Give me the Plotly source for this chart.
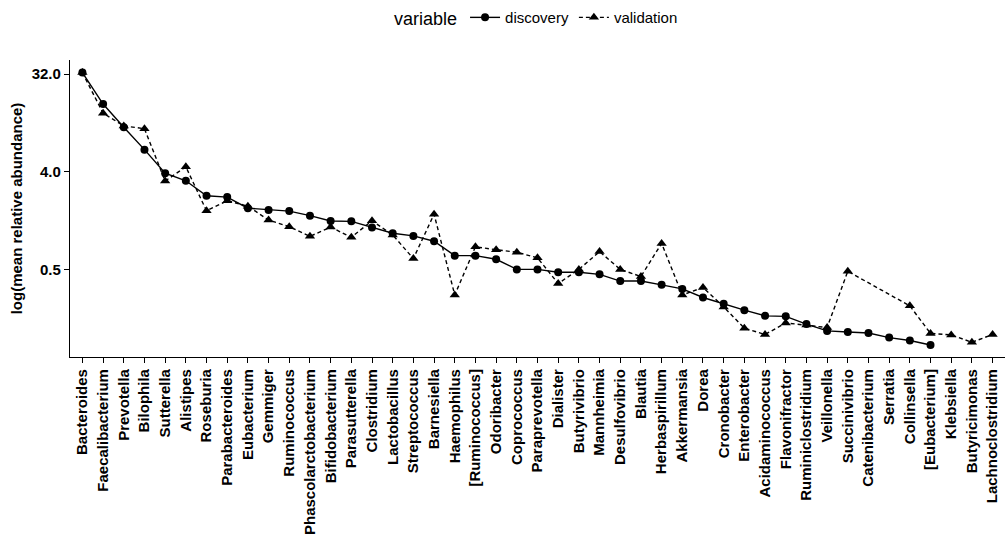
import plotly.graph_objects as go

genera = ["Bacteroides", "Faecalibacterium", "Prevotella", "Bilophila", "Sutterella", "Alistipes",
          "Roseburia", "Parabacteroides", "Eubacterium", "Gemmiger", "Ruminococcus",
          "Phascolarctobacterium", "Bifidobacterium", "Parasutterella", "Clostridium", "Lactobacillus",
          "Streptococcus", "Barnesiella", "Haemophilus", "[Ruminococcus]", "Odoribacter", "Coprococcus",
          "Paraprevotella", "Dialister", "Butyrivibrio", "Mannheimia", "Desulfovibrio", "Blautia",
          "Herbaspirillum", "Akkermansia", "Dorea", "Cronobacter", "Enterobacter", "Acidaminococcus",
          "Flavonifractor", "Ruminiclostridium", "Veillonella", "Succinivibrio", "Catenibacterium",
          "Serratia", "Collinsella", "[Eubacterium]", "Klebsiella", "Butyricimonas", "Lachnoclostridium"]

discovery = [33.0, 16.9, 10.3, 6.4, 3.87, 3.3, 2.4, 2.33, 1.84, 1.77, 1.73, 1.57, 1.40, 1.39,
             1.22, 1.08, 1.02, 0.91, 0.67, 0.67, 0.62, 0.50, 0.50, 0.47, 0.47, 0.45, 0.39, 0.39,
             0.36, 0.33, 0.275, 0.24, 0.21, 0.186, 0.184, 0.156, 0.135, 0.132, 0.129, 0.117, 0.11,
             0.10, None, None, None]

validation = [33.0, 13.9, 10.6, 10.0, 3.28, 4.45, 1.74, 2.16, 1.92, 1.43, 1.24, 1.01, 1.23, 0.99,
              1.41, 1.04, 0.63, 1.62, 0.29, 0.81, 0.76, 0.72, 0.64, 0.37, 0.50, 0.73, 0.50, 0.43,
              0.87, 0.29, 0.34, 0.225, 0.143, 0.125, 0.16, 0.153, 0.145, 0.48, None, None, 0.23,
              0.128, 0.124, 0.106, 0.125]

y_ticks = [0.5, 4.0, 32.0]
y_tick_labels = ["0.5", "4.0", "32.0"]

FONT = "Liberation Sans, Arial, Helvetica, sans-serif"

fig = go.Figure()
fig.add_trace(go.Scatter(
    x=genera, y=discovery, name="discovery", mode="lines+markers",
    line=dict(color="black", width=1.4),
    marker=dict(symbol="circle", size=8, color="black"),
    connectgaps=True,
))
fig.add_trace(go.Scatter(
    x=genera, y=validation, name="validation", mode="lines+markers",
    line=dict(color="black", width=1.4, dash="4px,3px"),
    marker=dict(symbol="triangle-up", size=9, color="black"),
    connectgaps=True,
))

fig.update_layout(
    width=1005, height=538,
    margin=dict(l=70, r=0, t=60, b=181),
    paper_bgcolor="white", plot_bgcolor="white",
    font=dict(family=FONT, color="black"),
    showlegend=True,
    legend=dict(
        orientation="h", x=0.5, xanchor="center", y=1.141, yanchor="middle",
        title=dict(text="variable", font=dict(size=18, family=FONT, color="black"), side="left"),
        font=dict(size=15, family=FONT, color="black"),
        itemwidth=30,
    ),
    xaxis=dict(
        type="category", categoryorder="array", categoryarray=genera,
        range=[-0.6, 44.6],
        showline=True, linecolor="black", linewidth=1.2,
        ticks="outside", ticklen=5, tickwidth=1.2, tickcolor="black",
        tickangle=-90,
        tickfont=dict(size=15, family=FONT, color="black", weight="bold"),
        showgrid=False, zeroline=False,
    ),
    yaxis=dict(
        type="log",
        range=[-1.111, 1.635],
        tickvals=y_ticks, ticktext=y_tick_labels,
        showline=True, linecolor="black", linewidth=1.2,
        ticks="outside", ticklen=5, tickwidth=1.2, tickcolor="black",
        tickfont=dict(size=15, family=FONT, color="black", weight="bold"),
        title=dict(text="log(mean relative abundance)", standoff=5,
                   font=dict(size=15, family=FONT, color="black", weight="bold")),
        showgrid=False, zeroline=False,
    ),
)

fig.write_html("out.html")
